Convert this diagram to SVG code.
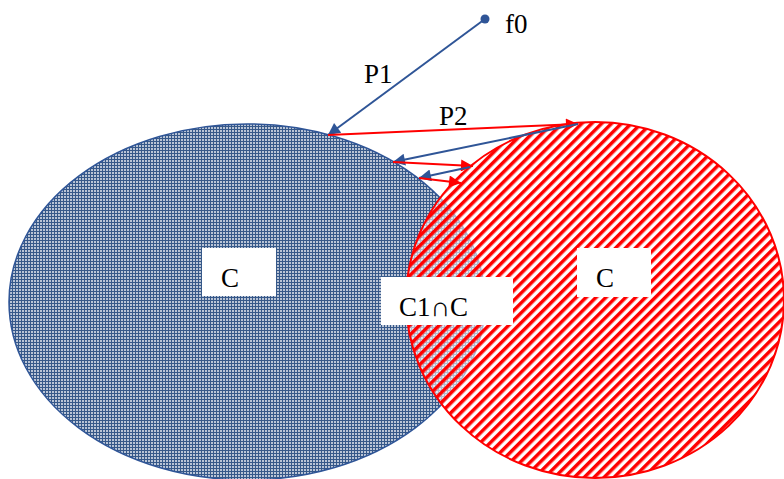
<svg xmlns="http://www.w3.org/2000/svg" width="784" height="479" viewBox="0 0 784 479">
<defs>
<pattern id="dots" width="3" height="3" patternUnits="userSpaceOnUse">
<rect width="3" height="3" fill="#365889"/>
<rect x="1" y="1" width="2" height="2" fill="#b9c4d6"/>
</pattern>
<pattern id="hatch" width="7" height="7" patternUnits="userSpaceOnUse" patternTransform="rotate(45)">
<rect width="3.5" height="7" fill="#ff0000"/>
</pattern>
<marker id="ab" viewBox="0 0 10 10" refX="10" refY="5" markerWidth="16" markerHeight="12" markerUnits="userSpaceOnUse" orient="auto">
<path d="M0,0 L10,5 L0,10 Z" fill="#2f5597"/>
</marker>
<marker id="ar" viewBox="0 0 10 10" refX="10" refY="5" markerWidth="16" markerHeight="12" markerUnits="userSpaceOnUse" orient="auto">
<path d="M0,0 L10,5 L0,10 Z" fill="#ff0000"/>
</marker>
</defs>
<style>
text{font-family:'Liberation Serif','Times New Roman','DejaVu Serif',serif;font-size:27px;fill:#000}
.box{fill:#ffffff}
.bl{stroke:#2f5597;stroke-width:2;fill:none}
.rl{stroke:#ff0000;stroke-width:2;fill:none}
</style>
<g id="setC1">
<ellipse cx="247" cy="302" rx="238" ry="178" fill="url(#dots)" stroke="#2f5597" stroke-width="1.5"/>
</g>
<g id="setC">
<ellipse cx="595" cy="300" rx="189" ry="178" fill="#ffffff" fill-opacity="0.6"/>
<ellipse cx="595" cy="300" rx="189" ry="178" fill="url(#hatch)" stroke="#ff0000" stroke-width="2"/>
</g>
<g id="connectors">
<line class="bl" x1="485" y1="19" x2="328" y2="135" marker-end="url(#ab)"/>
<line class="rl" x1="328" y1="135" x2="578" y2="124" marker-end="url(#ar)"/>
<line class="bl" x1="578" y1="124" x2="393" y2="162" marker-end="url(#ab)"/>
<line class="rl" x1="393" y1="162" x2="473" y2="166" marker-end="url(#ar)"/>
<line class="bl" x1="470" y1="167" x2="419" y2="178" marker-end="url(#ab)"/>
<line class="rl" x1="419" y1="178" x2="461" y2="183" marker-end="url(#ar)"/>
</g>
<g id="f0">
<circle cx="485" cy="19" r="4.5" fill="#2f5597"/>
<text x="505" y="33">f0</text>
</g>
<g id="labelP1"><text x="364" y="83">P1</text></g>
<g id="labelP2"><text x="439" y="125">P2</text></g>
<g id="labelC1">
<rect class="box" x="202" y="248" width="74" height="48"/>
<text x="221" y="287">C</text>
</g>
<g id="labelInter">
<rect class="box" x="381" y="277" width="132" height="48"/>
<text x="399" y="316">C1∩C</text>
</g>
<g id="labelC">
<rect class="box" x="577" y="248" width="74" height="49"/>
<text x="596" y="287">C</text>
</g>
</svg>
